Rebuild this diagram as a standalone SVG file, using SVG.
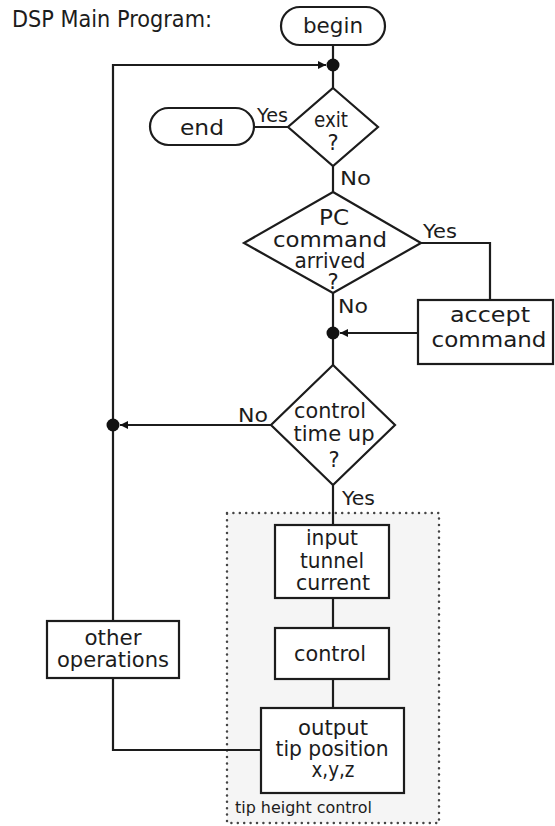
<svg xmlns="http://www.w3.org/2000/svg" width="555" height="826" viewBox="0 0 555 826">
  <defs>
    <style>
      .shape { fill: #ffffff; stroke: #1c1c1c; stroke-width: 2.2; }
      .wire { fill: none; stroke: #1c1c1c; stroke-width: 2.2; }
      .dot { fill: #111111; }
      .group-box { fill: #f5f5f5; stroke: #444444; stroke-width: 2.5; stroke-dasharray: 0 6.4; stroke-linecap: round; }
      text { font-family: "DejaVu Sans", "Liberation Sans", sans-serif; fill: #1c1c1c; }
      .t { font-size: 21px; text-anchor: middle; }
      .lbl { font-size: 20px; }
      .small { font-size: 15px; }
    </style>
    <marker id="arrow" viewBox="0 0 10 10" refX="10" refY="5" markerWidth="8" markerHeight="8" markerUnits="userSpaceOnUse" orient="auto">
      <path d="M0,0 L10,5 L0,10 z" fill="#111111"/>
    </marker>
  </defs>

  <!-- heading -->
  <text x="12" y="27" font-size="23" textLength="200" lengthAdjust="spacingAndGlyphs">DSP Main Program:</text>

  <!-- dotted grouping for the tip height loop -->
  <g id="tip-height-control">
    <rect class="group-box" x="227" y="513" width="212" height="310"/>
    <text class="small" x="235" y="813" textLength="137" lengthAdjust="spacingAndGlyphs">tip height control</text>
  </g>

  <!-- connectors -->
  <g id="connectors">
    <path class="wire" d="M333,45 V88"/>
    <path class="wire" d="M333,166 V192"/>
    <path class="wire" d="M288,127 H254"/>
    <path class="wire" d="M421,243 H490 V300"/>
    <path class="wire" d="M333,293 V365"/>
    <path class="wire" d="M418,333 H340" marker-end="url(#arrow)"/>
    <path class="wire" d="M271,425 H120" marker-end="url(#arrow)"/>
    <path class="wire" d="M333,485 V525"/>
    <path class="wire" d="M333,598 V628"/>
    <path class="wire" d="M333,679 V708"/>
    <path class="wire" d="M261,750 H113 V678"/>
    <path class="wire" d="M113,621 V65 H326" marker-end="url(#arrow)"/>
    <circle class="dot" cx="333" cy="65" r="6.5"/>
    <circle class="dot" cx="333" cy="333" r="6.5"/>
    <circle class="dot" cx="113" cy="425" r="6.5"/>
    <text class="lbl" x="257" y="122" textLength="31" lengthAdjust="spacingAndGlyphs">Yes</text>
    <text class="lbl" x="340" y="185" textLength="31" lengthAdjust="spacingAndGlyphs">No</text>
    <text class="lbl" x="423" y="238" textLength="34" lengthAdjust="spacingAndGlyphs">Yes</text>
    <text class="lbl" x="338" y="313" textLength="30" lengthAdjust="spacingAndGlyphs">No</text>
    <text class="lbl" x="238" y="422" textLength="30" lengthAdjust="spacingAndGlyphs">No</text>
    <text class="lbl" x="342" y="505" textLength="33" lengthAdjust="spacingAndGlyphs">Yes</text>
  </g>

  <g id="begin">
    <rect class="shape" x="281" y="7" width="104" height="38" rx="19"/>
    <text class="t" x="333" y="33" textLength="60" lengthAdjust="spacingAndGlyphs">begin</text>
  </g>

  <g id="end">
    <rect class="shape" x="150" y="108" width="104" height="37" rx="18.5"/>
    <text class="t" x="202" y="135" textLength="44" lengthAdjust="spacingAndGlyphs">end</text>
  </g>

  <g id="exit">
    <polygon class="shape" points="333,88 378,127 333,166 288,127"/>
    <text class="t" x="331" y="127" textLength="34" lengthAdjust="spacingAndGlyphs">exit</text>
    <text class="t" x="333" y="150">?</text>
  </g>

  <g id="pc-command">
    <polygon class="shape" points="333,192 421,243 333,293 244,243"/>
    <text class="t" x="334" y="225" textLength="30" lengthAdjust="spacingAndGlyphs">PC</text>
    <text class="t" x="330" y="247" textLength="114" lengthAdjust="spacingAndGlyphs">command</text>
    <text class="t" x="330" y="268" textLength="71" lengthAdjust="spacingAndGlyphs">arrived</text>
    <text class="t" x="333" y="289">?</text>
  </g>

  <g id="accept-command">
    <rect class="shape" x="418" y="300" width="135" height="64"/>
    <text class="t" x="490" y="322" textLength="80" lengthAdjust="spacingAndGlyphs">accept</text>
    <text class="t" x="489" y="347" textLength="115" lengthAdjust="spacingAndGlyphs">command</text>
  </g>

  <g id="control-time-up">
    <polygon class="shape" points="333,365 395,425 333,485 271,425"/>
    <text class="t" x="330" y="418" textLength="72" lengthAdjust="spacingAndGlyphs">control</text>
    <text class="t" x="334" y="441" textLength="81" lengthAdjust="spacingAndGlyphs">time up</text>
    <text class="t" x="334" y="467">?</text>
  </g>

  <g id="input-tunnel-current">
    <rect class="shape" x="275" y="525" width="114" height="73"/>
    <text class="t" x="332" y="545" textLength="52" lengthAdjust="spacingAndGlyphs">input</text>
    <text class="t" x="332" y="568" textLength="64" lengthAdjust="spacingAndGlyphs">tunnel</text>
    <text class="t" x="333" y="590" textLength="74" lengthAdjust="spacingAndGlyphs">current</text>
  </g>

  <g id="control">
    <rect class="shape" x="275" y="628" width="114" height="51"/>
    <text class="t" x="330" y="661" textLength="72" lengthAdjust="spacingAndGlyphs">control</text>
  </g>

  <g id="output-tip-position">
    <rect class="shape" x="261" y="708" width="143" height="85"/>
    <text class="t" x="333" y="735" textLength="70" lengthAdjust="spacingAndGlyphs">output</text>
    <text class="t" x="332" y="756" textLength="113" lengthAdjust="spacingAndGlyphs">tip position</text>
    <text class="t" x="333" y="777" textLength="43" lengthAdjust="spacingAndGlyphs">x,y,z</text>
  </g>

  <g id="other-operations">
    <rect class="shape" x="47" y="621" width="132" height="57"/>
    <text class="t" x="113" y="645" textLength="57" lengthAdjust="spacingAndGlyphs">other</text>
    <text class="t" x="113" y="667" textLength="112" lengthAdjust="spacingAndGlyphs">operations</text>
  </g>
</svg>
